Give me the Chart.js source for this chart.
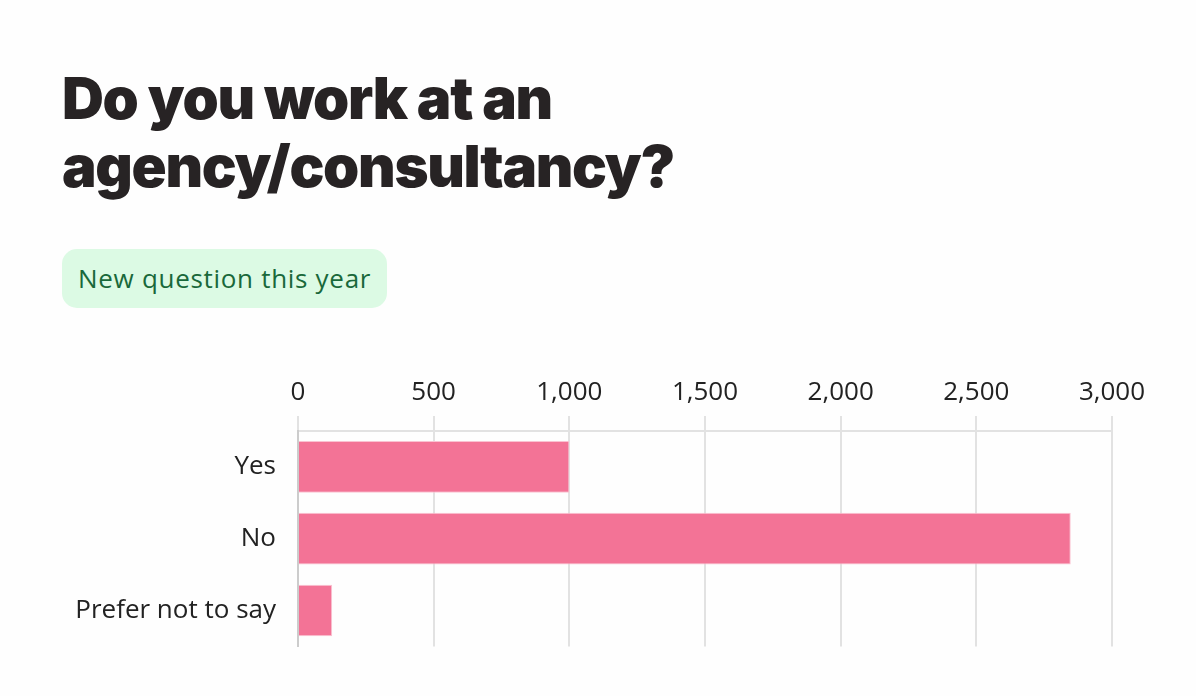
<!DOCTYPE html>
<html>
<head>
<meta charset="utf-8">
<script src="https://cdn.jsdelivr.net/npm/chart.js@4/dist/chart.umd.min.js"></script>
<style>
    html, body {
        margin: 0;
        padding: 0;
    }
    body {
        width: 1196px;
        height: 696px;
        background: #fefefe;
        position: relative;
        overflow: hidden;
    }
    #title {
        position: absolute;
        left: 62px;
        top: 64px;
        margin: 0;
        font-family: Inter, sans-serif;
        font-weight: 900;
        font-size: 58px;
        line-height: 68px;
        letter-spacing: -1.3px;
        color: #272324;
    }
    #tag {
        position: absolute;
        left: 62px;
        top: 249px;
        height: 59px;
        padding: 0 16px;
        border-radius: 15px;
        background: #dcfae4;
        color: #19683a;
        font-family: 'Open Sans', sans-serif;
        font-size: 26px;
        letter-spacing: 0.7px;
        line-height: 59px;
    }
    #myChart {
        position: absolute;
        left: 0;
        top: 360px;
    }
</style>
</head>
<body>
<h1 id="title">Do you work at an<br>agency/consultancy?</h1>
<div id="tag">New question this year</div>
<canvas id="myChart" width="1196" height="324"></canvas>

<script>
const answers = ['Yes', 'No', 'Prefer not to say']
const respondents = [1000, 2848, 126]
const countTicks = [0, 500, 1000, 1500, 2000, 2500, 3000]

let ctx = document.getElementById('myChart').getContext('2d')
let chart = new Chart(ctx, {
    type: 'bar',
    data: {
        labels: answers,
        datasets: [{
            data: respondents,
            backgroundColor: '#f37396',
            borderColor: '#fac3d2',
            borderWidth: 1,
            barPercentage: 0.72,
            categoryPercentage: 1
        }]
    },
    options: {
        indexAxis: 'y',
        responsive: false,
        animation: false,
        layout: {
            padding: { left: 0, right: 84, top: 0, bottom: 13 }
        },
        plugins: {
            legend: { display: false },
            tooltip: { enabled: false }
        },
        scales: {
            x: {
                position: 'top',
                min: countTicks[0],
                max: countTicks[countTicks.length - 1],
                afterBuildTicks: scale => {
                    scale.ticks = countTicks.map(v => ({ value: v }))
                },
                afterFit: scale => {
                    scale.height = 71
                },
                grid: {
                    color: '#e2e2e2',
                    lineWidth: 2,
                    tickLength: 15
                },
                border: {
                    color: '#e2e2e2',
                    width: 2
                },
                ticks: {
                    color: '#222',
                    padding: 8,
                    font: { family: 'Open Sans', size: 26 }
                }
            },
            y: {
                afterFit: scale => {
                    scale.width = 298
                },
                grid: {
                    display: false,
                    drawTicks: false
                },
                border: {
                    color: '#cccccc',
                    width: 2
                },
                ticks: {
                    color: '#222',
                    padding: 22,
                    font: { family: 'Open Sans', size: 26 }
                }
            }
        }
    }
})
</script>
</body>
</html>
